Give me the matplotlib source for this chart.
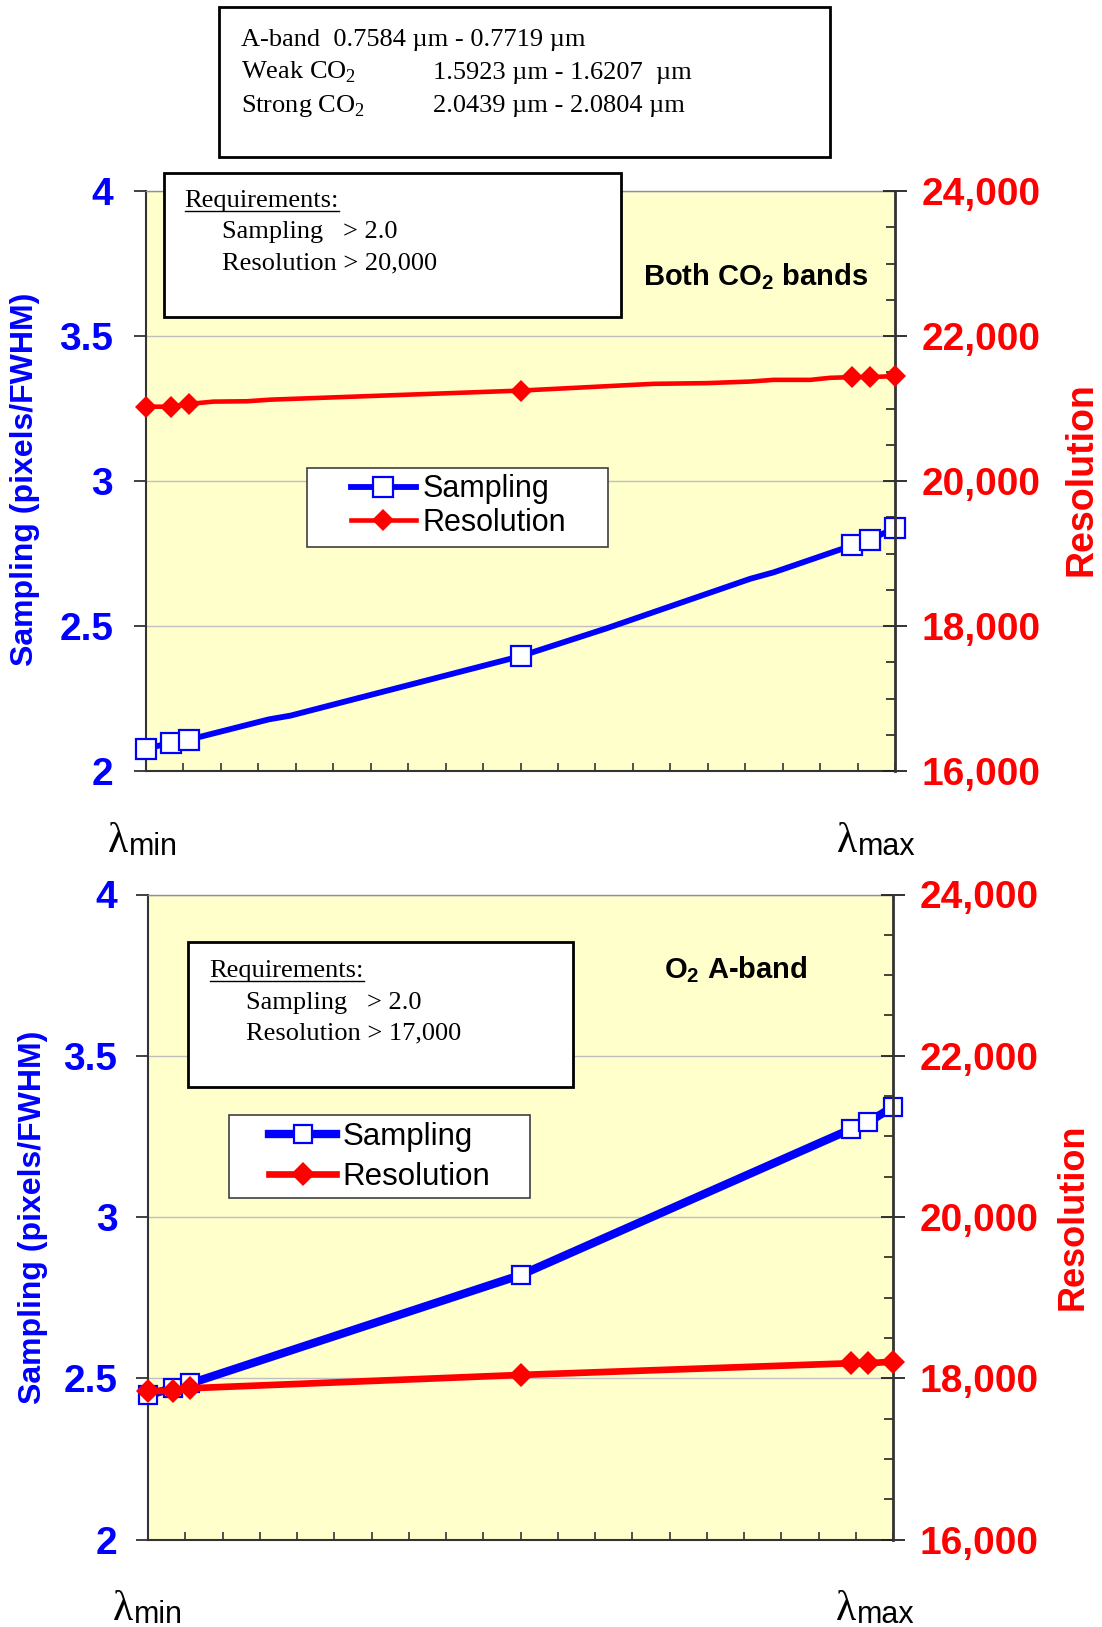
import matplotlib
matplotlib.use('Agg')
import matplotlib.pyplot as plt
from matplotlib.patches import Rectangle
from matplotlib.lines import Line2D
from matplotlib.ticker import MultipleLocator

W, H = 1102, 1627

# position inside the band: 0 = lambda_min, 1 = lambda_max
co2_samp_x = [0, 0.033, 0.057, 0.164, 0.193, 0.5, 0.615, 0.807, 0.838, 0.943, 0.967, 1]
co2_sampling = [2.077, 2.097, 2.108, 2.178, 2.191, 2.396, 2.492, 2.663, 2.685, 2.778, 2.798, 2.838]
co2_samp_marked = [0, 1, 2, 5, 9, 10, 11]

co2_res_x = [0, 0.033, 0.057, 0.090, 0.135, 0.166, 0.5, 0.677, 0.749, 0.807, 0.838, 0.887, 0.913, 0.943, 0.967, 1]
co2_resolution = [21025, 21025, 21063, 21095, 21100, 21122, 21247, 21340, 21350, 21372, 21395, 21395,
                  21423, 21433, 21433, 21447]
co2_res_marked = [0, 1, 2, 6, 13, 14, 15]

aband_x = [0, 0.033, 0.057, 0.5, 0.943, 0.967, 1]
aband_sampling = [2.448, 2.469, 2.484, 2.820, 3.272, 3.294, 3.342]
aband_resolution = [17843, 17843, 17876, 18041, 18186, 18186, 18206]

samp_ticks = [2, 2.5, 3, 3.5, 4]
samp_labels = ['2', '2.5', '3', '3.5', '4']
res_ticks = [16000, 18000, 20000, 22000, 24000]
res_labels = ['16,000', '18,000', '20,000', '22,000', '24,000']

BLUE = '#0000FF'
RED = '#FF0000'
SANS = 'Liberation Sans'
SERIF = 'Liberation Serif'

fig = plt.figure(figsize=(W / 100, H / 100), dpi=100)


def fx(x):
    return x / W


def fy(y):
    return 1 - y / H


def box(x0, y0, x1, y1, lw=2):
    fig.add_artist(Rectangle((fx(x0), fy(y1)), (x1 - x0) / W, (y1 - y0) / H,
                             transform=fig.transFigure, facecolor='white',
                             edgecolor='black', lw=lw))


def panel(l, t, r, b, sx, sy, s_mark, rx, ry, r_mark, lw_s, lw_r, ms_s, ms_r,
          leg_box, leg_center, leg_fs, leg_sp, tick_pad):
    ax = fig.add_axes([fx(l), fy(b), (r - l) / W, (b - t) / H])
    ax.set_facecolor('#FFFFCC')
    ax.set_xlim(0, 1)
    ax.set_ylim(2, 4)
    ax.set_xticks([i / 20 for i in range(21)])
    ax.set_yticks(samp_ticks, labels=samp_labels, fontsize=28, fontweight='bold',
                  color=BLUE, family=SANS)
    ax.tick_params(axis='x', direction='in', length=6, width=1.2, labelbottom=False,
                   color='#333333')
    ax.tick_params(axis='y', direction='out', length=8.6, width=1.3, pad=tick_pad,
                   color='#333333')
    ax.grid(axis='y', color='#C0C0C0', lw=1)
    ax.set_axisbelow(True)
    for side in ['left', 'bottom']:
        ax.spines[side].set_color('#333333')
        ax.spines[side].set_linewidth(1.5)
    ax.spines['top'].set_color('#909090')
    ax.spines['top'].set_linewidth(1)
    ax.spines['right'].set_visible(False)

    ax2 = ax.twinx()
    ax2.set_ylim(16000, 24000)
    ax2.set_yticks(res_ticks, labels=res_labels, fontsize=28, fontweight='bold',
                   color=RED, family=SANS)
    ax2.yaxis.set_minor_locator(MultipleLocator(500))
    ax2.tick_params(axis='y', which='major', direction='inout', length=17, width=1.3,
                    pad=10.5, color='#222222')
    ax2.tick_params(axis='y', which='minor', direction='in', length=6.5, width=1.2,
                    color='#222222')
    for side in ['left', 'bottom', 'top']:
        ax2.spines[side].set_visible(False)
    ax2.spines['right'].set_color('#333333')
    ax2.spines['right'].set_linewidth(2)

    l1, = ax.plot(sx, sy, color=BLUE, lw=lw_s, marker='s', ms=ms_s, mfc='white',
                  mec=BLUE, mew=1.6, markevery=s_mark, clip_on=False, zorder=3,
                  label='Sampling')
    l2, = ax2.plot(rx, ry, color=RED, lw=lw_r, marker='D', ms=ms_r, mfc=RED,
                   mec=RED, mew=0, markevery=r_mark, clip_on=False, zorder=3,
                   label='Resolution')

    x0, y0, x1, y1 = leg_box
    ax2.add_patch(Rectangle((fx(x0), fy(y1)), (x1 - x0) / W, (y1 - y0) / H,
                            transform=fig.transFigure, facecolor='white',
                            edgecolor='#404040', lw=1.2, zorder=4, clip_on=False))
    ax2.legend([l1, l2], ['Sampling', 'Resolution'], loc='center',
               bbox_to_anchor=(fx(leg_center[0]), fy(leg_center[1])),
               bbox_transform=fig.transFigure, frameon=False, numpoints=1,
               prop={'family': SANS, 'size': leg_fs}, handlelength=2.13,
               handletextpad=0.22, labelspacing=leg_sp, borderpad=0)
    return ax, ax2


panel(146, 191, 895, 771, co2_samp_x, co2_sampling, co2_samp_marked,
      co2_res_x, co2_resolution, co2_res_marked, 4.2, 3.3, 14.5, 11.5,
      (306.7, 467.7, 608.3, 547.3), (458.3, 506), 22, 0.1, 15)

panel(148, 894.5, 893, 1539.5, aband_x, aband_sampling, list(range(7)),
      aband_x, aband_resolution, list(range(7)), 6, 4.8, 13.5, 12,
      (229, 1115, 530, 1197.7), (380, 1157), 22.5, 0.34, 13.5)

# band info box
box(219, 7.3, 830, 156.7)
fs_info = 19
fig.text(fx(240.7), fy(45.7), 'A-band  0.7584 \u00b5m - 0.7719 \u00b5m', family=SERIF,
         fontsize=fs_info, va='baseline')
fig.text(fx(240.7), fy(78.9), r'Weak CO$_\mathregular{2}$', family=SERIF,
         fontsize=fs_info, va='baseline')
fig.text(fx(432.7), fy(78.9), '1.5923 \u00b5m - 1.6207  \u00b5m', family=SERIF,
         fontsize=fs_info, va='baseline')
fig.text(fx(240.7), fy(112), r'Strong CO$_\mathregular{2}$', family=SERIF,
         fontsize=fs_info, va='baseline')
fig.text(fx(432.7), fy(112), '2.0439 \u00b5m - 2.0804 \u00b5m', family=SERIF,
         fontsize=fs_info, va='baseline')

# requirement boxes
box(164.3, 173.3, 621, 316.5)
req1 = fig.text(fx(184.7), fy(207), 'Requirements:', family=SERIF, fontsize=19, va='baseline')
fig.text(fx(222), fy(238), 'Sampling   > 2.0', family=SERIF, fontsize=19, va='baseline')
fig.text(fx(222), fy(269), 'Resolution > 20,000', family=SERIF, fontsize=19, va='baseline')

box(187.8, 942.2, 572.8, 1086.5)
req2 = fig.text(fx(209.6), fy(977), 'Requirements:', family=SERIF, fontsize=19, va='baseline')
fig.text(fx(246), fy(1008.5), 'Sampling   > 2.0', family=SERIF, fontsize=19, va='baseline')
fig.text(fx(246), fy(1039.5), 'Resolution > 17,000', family=SERIF, fontsize=19, va='baseline')

# band names
fig.text(fx(643), fy(285.4), r'Both CO$_\mathregular{2}$ bands', family=SANS,
         fontweight='bold', fontsize=21, va='baseline')
fig.text(fx(664), fy(978.6), r'O$_\mathregular{2}$ A-band', family=SANS,
         fontweight='bold', fontsize=21, va='baseline')

# axis titles
fig.text(fx(25), fy(479), 'Sampling (pixels/FWHM)', family=SANS, fontweight='bold',
         fontsize=23, color=BLUE, rotation=90, ha='center', va='center')
fig.text(fx(33), fy(1217), 'Sampling (pixels/FWHM)', family=SANS, fontweight='bold',
         fontsize=23, color=BLUE, rotation=90, ha='center', va='center')
fig.text(fx(1082), fy(479), 'Resolution', family=SANS, fontweight='bold',
         fontsize=27, color=RED, rotation=90, ha='center', va='center')
fig.text(fx(1073), fy(1217), 'Resolution', family=SANS, fontweight='bold',
         fontsize=26, color=RED, rotation=90, ha='center', va='center')

# lambda min / max labels
lams = []
for lx, yb, sub in [(108, 852, 'min'), (837, 852, 'max'),
                    (113, 1620, 'min'), (836, 1620, 'max')]:
    lt = fig.text(fx(lx), fy(yb), '\u03bb', family=SERIF, fontsize=30, va='baseline')
    lams.append((lt, yb, sub))

fig.canvas.draw()
for lt, yb, sub in lams:
    bb = lt.get_window_extent()
    fig.text(fx(bb.x1 + 1), fy(yb + 3), sub, family=SANS, fontsize=22, va='baseline')

# underline the "Requirements:" headings
for t, yl in [(req1, 210.5), (req2, 980.5)]:
    bb = t.get_window_extent()
    fig.add_artist(Line2D([bb.x0 / W, bb.x1 / W], [fy(yl), fy(yl)],
                          transform=fig.transFigure, color='black', lw=1))

fig.savefig('out.png', dpi=100)
